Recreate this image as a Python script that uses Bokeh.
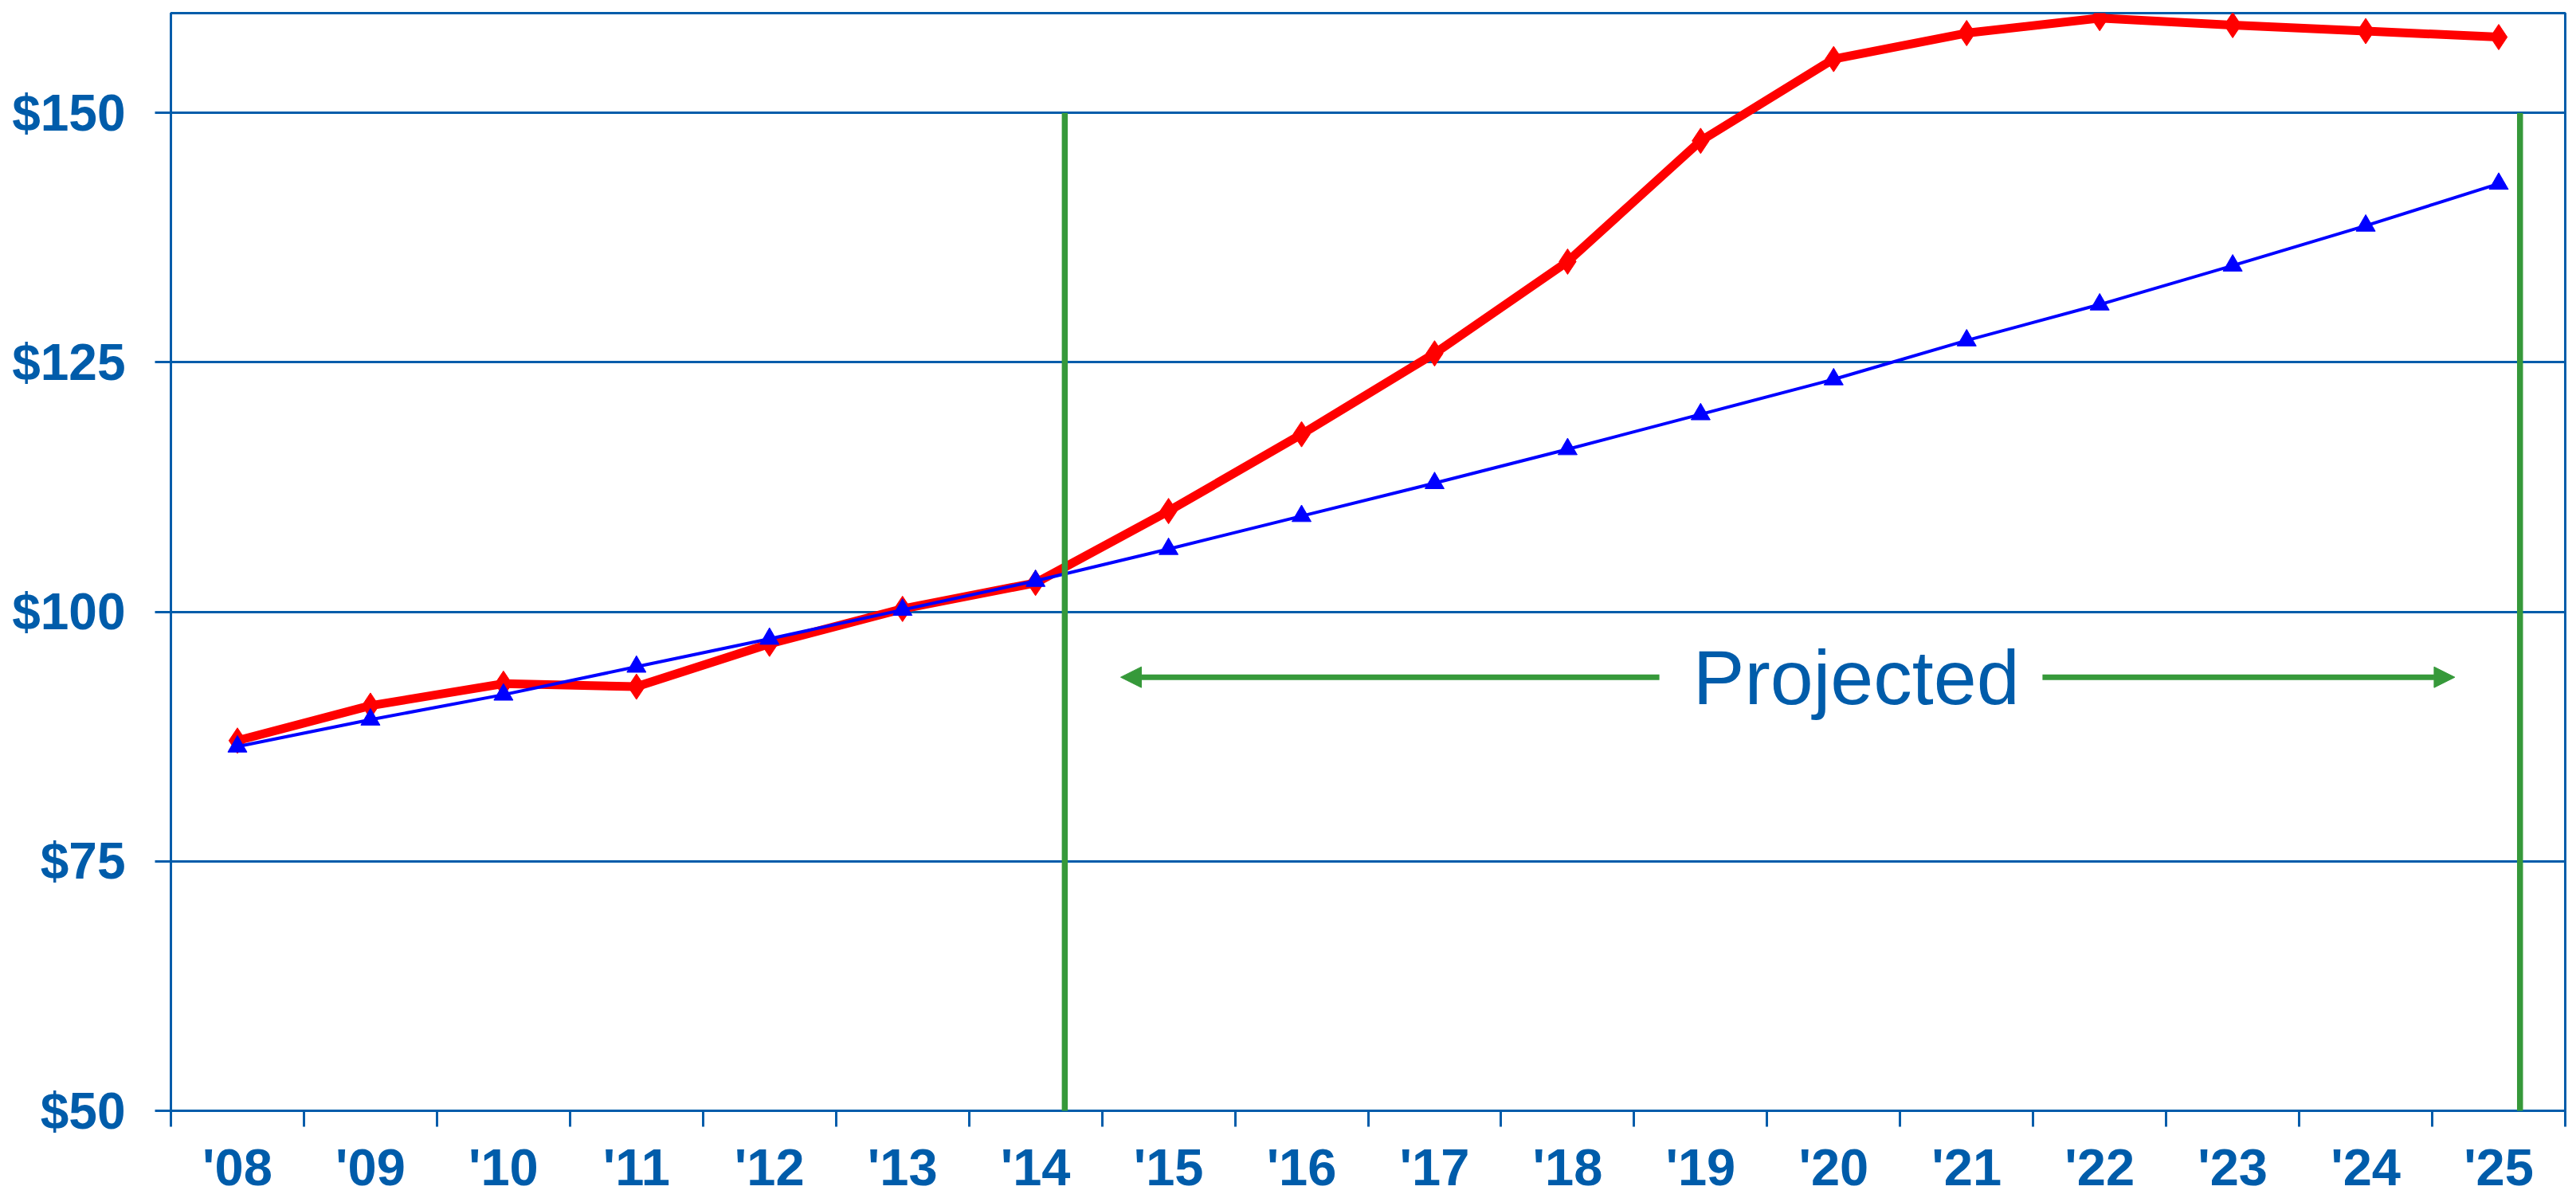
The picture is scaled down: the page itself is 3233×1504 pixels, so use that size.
from bokeh.plotting import figure
from bokeh.models import Range1d, FixedTicker, Arrow, NormalHead, Label, PrintfTickFormatter
from bokeh.embed import file_html
from bokeh.resources import INLINE

# Year labels along the bottom axis
years = ["'08", "'09", "'10", "'11", "'12", "'13", "'14", "'15", "'16",
         "'17", "'18", "'19", "'20", "'21", "'22", "'23", "'24", "'25"]

# Index values (dollars)
index_values = [87.1, 90.6, 92.8, 92.5, 96.8, 100.3, 102.9, 110.1, 117.8,
                125.9, 135.1, 147.2, 155.4, 158.0, 159.5, 158.8, 158.2, 157.6]
trend_values = [86.5, 89.2, 91.7, 94.5, 97.3, 100.2, 103.1, 106.3, 109.6,
                112.9, 116.3, 119.8, 123.3, 127.2, 130.8, 134.7, 138.7, 142.9]

y_ticks = [50, 75, 100, 125, 150]

# Projection window markers and annotation
projection_start = 6.22
projection_end = 17.16
marker_top = 150
marker_bottom = 49.2
arrow_y = 93.45
label_y = 93.4
label_x = 12.17
left_arrow = (10.69, 6.64)
right_arrow = (13.57, 16.67)

BLUE = "#005CAA"
GREEN = "#36993A"
FONT = "Liberation Sans"

x = list(range(len(years)))

p = figure(width=3233, height=1504, output_backend="svg", toolbar_location=None,
           x_range=Range1d(-0.5, len(years) - 0.5), y_range=Range1d(50, 160),
           min_border_left=214, min_border_right=14, min_border_top=16,
           min_border_bottom=107)
p.background_fill_color = "white"
p.border_fill_color = "white"
p.outline_line_color = BLUE
p.outline_line_width = 3

# x axis: tick marks between years, labels centred on each year
xa = p.xaxis[0]
xa.ticker = FixedTicker(ticks=x, minor_ticks=[i - 0.5 for i in range(len(years) + 1)])
xa.major_label_overrides = {i: lab for i, lab in enumerate(years)}
xa.major_tick_line_color = None
xa.major_tick_in = 0
xa.major_tick_out = 20
xa.minor_tick_in = 0
xa.minor_tick_out = 20
xa.minor_tick_line_color = BLUE
xa.minor_tick_line_width = 3
xa.axis_line_color = BLUE
xa.axis_line_width = 3
xa.major_label_text_font = FONT
xa.major_label_text_font_style = "bold"
xa.major_label_text_font_size = "65px"
xa.major_label_text_color = BLUE
xa.major_label_standoff = 14

ya = p.yaxis[0]
ya.ticker = FixedTicker(ticks=y_ticks, minor_ticks=[])
ya.formatter = PrintfTickFormatter(format="$%d")
ya.major_tick_in = 0
ya.major_tick_out = 20
ya.major_tick_line_color = BLUE
ya.major_tick_line_width = 3
ya.axis_line_color = BLUE
ya.axis_line_width = 3
ya.major_label_text_font = FONT
ya.major_label_text_font_style = "bold"
ya.major_label_text_font_size = "64px"
ya.major_label_text_color = BLUE
ya.major_label_standoff = 37

p.xgrid.grid_line_color = None
p.ygrid.ticker = FixedTicker(ticks=y_ticks)
p.ygrid.grid_line_color = BLUE
p.ygrid.grid_line_width = 3

# Series
p.line(x, index_values, line_color="#FF0000", line_width=11, line_join="round")
p.scatter(x, index_values, marker="diamond", size=32, fill_color="#FF0000",
          line_color="#FF0000")
p.line(x, trend_values, line_color="#0000FF", line_width=4)
p.scatter(x, trend_values, marker="triangle", size=24, fill_color="#0000FF",
          line_color="#0000FF")

# Vertical markers bounding the projection period
for xv in (projection_start, projection_end):
    p.add_layout(Arrow(end=None, x_start=xv, y_start=marker_top, x_end=xv,
                       y_end=marker_bottom, line_color=GREEN, line_width=7.5))

for xs, xe in (left_arrow, right_arrow):
    p.add_layout(Arrow(end=NormalHead(size=26, fill_color=GREEN, line_color=GREEN),
                       x_start=xs, y_start=arrow_y, x_end=xe, y_end=arrow_y,
                       line_color=GREEN, line_width=7))

p.add_layout(Label(x=label_x, y=label_y, text="Projected", text_align="center",
                   text_baseline="alphabetic", text_font=FONT,
                   text_font_size="97px", text_color=BLUE))

open("out.html", "w").write(file_html(p, INLINE))
